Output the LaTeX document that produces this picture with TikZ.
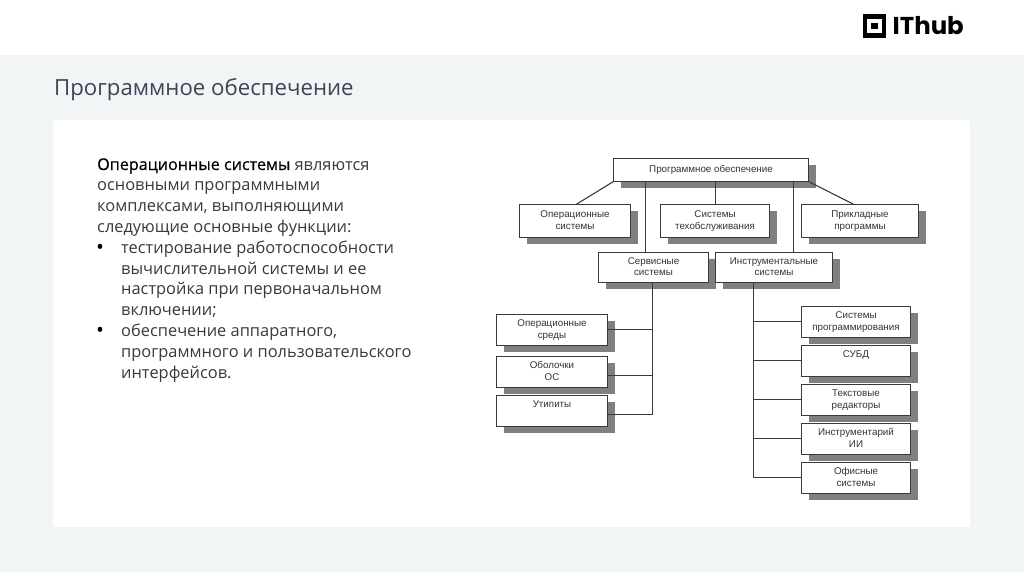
\documentclass[tikz,border=0pt]{standalone}
\usepackage{fontspec}
\setmainfont{Open Sans}
\newfontfamily\boxfont{Liberation Sans}
\newfontfamily\logofont{Poppins}
\newfontfamily\leadfont[FakeBold=0.5]{Open Sans}
\definecolor{pagebg}{HTML}{F2F5F6}
\definecolor{titlecol}{HTML}{3C4556}
\definecolor{bodycol}{HTML}{3A3A3A}
\definecolor{boxline}{HTML}{3A3A3A}
\definecolor{shadowcol}{HTML}{808080}
\definecolor{boxtext}{HTML}{333333}
\tikzset{
  x=1pt,y=-1pt,
  orgbox/.style n args={2}{draw=boxline,line width=1.1pt,fill=white,inner sep=0pt,outer sep=0pt,
    minimum width=#1,minimum height=#2,align=center,text depth=1.8pt,
    font=\boxfont\fontsize{9.8}{11.6}\selectfont,text=boxtext,
    preaction={draw=none,fill=shadowcol,transform canvas={xshift=7pt,yshift=-6pt}}},
  link/.style={draw=boxline,line width=1.1pt},
  bodyline/.style={anchor=base west,inner sep=0pt,font=\fontsize{16.4}{18}\selectfont,text=bodycol},
  bulletmark/.style={anchor=base west,inner sep=0pt,font=\fontsize{21}{21}\selectfont,text=black},
}
\begin{document}
\begin{tikzpicture}
\useasboundingbox (0,0) rectangle (1024,574);
\fill[white] (0,0) rectangle (1024,574);
\fill[pagebg] (0,55) rectangle (1024,572);
\fill[white,rounded corners=2pt] (53,120) rectangle (970,527);
% logo
\fill[black] (862.5,14) rectangle (886,37.5);
\fill[white] (867,18.5) rectangle (881.5,33);
\fill[black] (871,22.5) rectangle (877.5,29);
\node[anchor=base west,inner sep=0pt,font=\logofont\bfseries\fontsize{24.4}{24}\selectfont] (logo) at (892.5,34) {IThub};
% title
\node[anchor=base west,inner sep=0pt,font=\fontsize{22.2}{24}\selectfont,text=titlecol] (title) at (54,95) {Программное обеспечение};
% body
\node[bodyline] (l1) at (97,170) {{\color{black}\leadfont\fontsize{16.15}{18}\selectfont Операционные системы} являются};
\node[bodyline] (l2) at (97,190.8) {основными программными};
\node[bodyline] (l3) at (97,211.6) {комплексами, выполняющими};
\node[bodyline] (l4) at (97,232.4) {следующие основные функции:};
\node[bulletmark] (b1) at (96,254.5) {•};
\node[bodyline] (l5) at (121,253.2) {тестирование работоспособности};
\node[bodyline] (l6) at (121,274) {вычислительной системы и ее};
\node[bodyline] (l7) at (121,294.8) {настройка при первоначальном};
\node[bodyline] (l8) at (121,315.6) {включении;};
\node[bulletmark] (b2) at (96,337.7) {•};
\node[bodyline] (l9) at (121,336.4) {обеспечение аппаратного,};
\node[bodyline] (l10) at (121,357.2) {программного и пользовательского};
\node[bodyline] (l11) at (121,378) {интерфейсов.};
% boxes
\node[orgbox={195}{23}] (root) at (711,170) {Программное обеспечение};
\node[orgbox={111}{33}] (os) at (575,221) {Операционные\\системы};
\node[orgbox={109}{33}] (tech) at (715,221) {Системы\\техобслуживания};
\node[orgbox={117}{33}] (app) at (860,221) {Прикладные\\программы};
\node[orgbox={110}{30}] (serv) at (653.5,267.5) {Сервисные\\системы};
\node[orgbox={117}{30}] (inst) at (774,267.5) {Инструментальные\\системы};
\node[orgbox={111}{31}] (env) at (552,330) {Операционные\\среды};
\node[orgbox={111}{31}] (shell) at (552,372) {Оболочки\\ОС};
\node[orgbox={111}{31}] (util) at (552,411) {Утипиты\\\strut};
\node[orgbox={109}{31}] (prog) at (856,322) {Системы\\программирования};
\node[orgbox={109}{31}] (dbms) at (856,361) {СУБД\\\strut};
\node[orgbox={109}{31}] (edit) at (856,400) {Текстовые\\редакторы};
\node[orgbox={109}{31}] (ai) at (856,439) {Инструментарий\\ИИ};
\node[orgbox={109}{31}] (office) at (856,478) {Офисные\\системы};
% connectors
\coordinate (osTop) at (576,204.5);
\coordinate (appTop) at (854,204.5);
\coordinate (t1) at (645.5,181.5);
\coordinate (t2) at (793.5,181.5);
\coordinate (t3) at (715.5,181.5);
\coordinate (ls) at (652.5,282.5);
\coordinate (rs) at (753.5,282.5);
\coordinate (shellEnd) at (607.5,375.5);
\coordinate (utilEnd) at (607.5,414.5);
\draw[link] (root.south west) -- (osTop);
\draw[link] (root.south east) -- (appTop);
\draw[link] (t1) -- (t1 |- serv.north);
\draw[link] (t2) -- (t2 |- inst.north);
\draw[link] (t3) -- (t3 |- tech.north);
\draw[link] (ls) |- (utilEnd);
\draw[link] ([yshift=0.5pt]env.east) -- ([yshift=0.5pt]env.east -| ls);
\draw[link] (shellEnd) -- (shellEnd -| ls);
\draw[link] (rs) |- ([yshift=0.5pt]office.west);
\draw[link] ([yshift=0.5pt]prog.west) -- ([yshift=0.5pt]prog.west -| rs);
\draw[link] ([yshift=0.5pt]dbms.west) -- ([yshift=0.5pt]dbms.west -| rs);
\draw[link] ([yshift=0.5pt]edit.west) -- ([yshift=0.5pt]edit.west -| rs);
\draw[link] ([yshift=0.5pt]ai.west) -- ([yshift=0.5pt]ai.west -| rs);
\end{tikzpicture}
\end{document}
